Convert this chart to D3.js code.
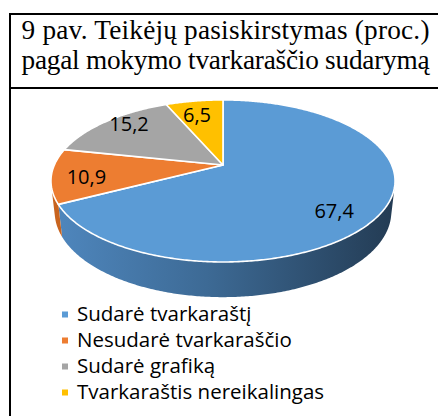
<!DOCTYPE html>
<html>
<head>
<meta charset="utf-8">
<script src="https://cdn.jsdelivr.net/npm/d3@7"></script>
<style>
  html, body { margin: 0; padding: 0; background: #fff; }
  svg { display: block; }
  .title { font-family: 'Liberation Serif', 'DejaVu Serif', serif; }
  .sans { font-family: 'Open Sans', 'Noto Sans', sans-serif; }
</style>
</head>
<body>
<svg id="chart" width="438" height="416"></svg>
<script>
// ---- data ----
const titleLines = ["9 pav. Teikėjų pasiskirstymas (proc.)", "pagal mokymo tvarkaraščio sudarymą"];
const categories = ["Sudarė tvarkaraštį", "Nesudarė tvarkaraščio", "Sudarė grafiką", "Tvarkaraštis nereikalingas"];
const values = [67.4, 10.9, 15.2, 6.5];
const valueLabels = ["67,4", "10,9", "15,2", "6,5"];
const colors = ["#5b9bd5", "#ed7d31", "#a5a5a5", "#ffc000"];
const wallColors = ["url(#blueWall)", "#c8641f", "#7f7f7f", "#c79500"];

// ---- drawing ----
const svg = d3.select("#chart");
const defs = svg.append("defs");
const g1 = defs.append("linearGradient").attr("id", "blueWall")
  .attr("gradientUnits", "userSpaceOnUse").attr("x1", 52).attr("x2", 396).attr("y1", 0).attr("y2", 0);
g1.append("stop").attr("offset", 0).attr("stop-color", "#4f87be");
g1.append("stop").attr("offset", 0.45).attr("stop-color", "#3d6a95");
g1.append("stop").attr("offset", 1).attr("stop-color", "#233b53");

// frame
svg.append("line").attr("x1", 9).attr("x2", 438).attr("y1", 14).attr("y2", 14).attr("stroke", "#000").attr("stroke-width", 2);
svg.append("line").attr("x1", 10).attr("x2", 10).attr("y1", 13).attr("y2", 416).attr("stroke", "#000").attr("stroke-width", 2);
svg.append("line").attr("x1", 9).attr("x2", 438).attr("y1", 88).attr("y2", 88).attr("stroke", "#000").attr("stroke-width", 2);

const titleText = svg.selectAll("text.title").data(titleLines).enter().append("text")
  .attr("class", "title")
  .attr("x", 21.5).attr("y", (d, i) => 39 + i * 30)
  .attr("font-size", 20)
  .attr("fill", "#000")
  .text(d => d);
// size so the two lines average the reference width, then even them out
const widths = titleText.nodes().map(n => n.getComputedTextLength());
const avgW = d3.mean(widths);
if (avgW > 0) {
  titleText.attr("font-size", 20 * 408 / avgW)
    .attr("textLength", 408).attr("lengthAdjust", "spacing");
}

// 3D perspective projection
const PHI = 27.5 * Math.PI / 180, DIST = 4.506, F = 760, CX = 223, CY = 165, H = 0.2077;
const sP = Math.sin(PHI), cP = Math.cos(PHI);
function project(r, t, y) {
  const x = r * Math.sin(t), z = -r * Math.cos(t);
  const Y = y * cP - z * sP;
  const Zd = DIST - (y * sP + z * cP);
  return [CX + F * x / Zd, CY - F * Y / Zd];
}
function arcPts(t0, t1, y) {
  const n = Math.max(2, Math.ceil(Math.abs(t1 - t0) / 0.01));
  return d3.range(n + 1).map(i => project(1, t0 + (t1 - t0) * i / n, y));
}

const pie = d3.pie().sort(null).value(d => d)(values);

// visible wall range: cos t < -1/(D cos phi)
const tv = Math.acos(-1 / (DIST * cP));
const visA = tv, visB = 2 * Math.PI - tv;

const line = d3.line();
const walls = svg.append("g");
pie.forEach((p, i) => {
  const a = Math.max(p.startAngle, visA), b = Math.min(p.endAngle, visB);
  if (b <= a) return;
  const top = arcPts(a, b, 0);
  const bot = arcPts(b, a, -H);
  walls.append("path").attr("d", line(top.concat(bot)) + "Z")
    .attr("fill", wallColors[i]);
});

const tops = svg.append("g");
pie.forEach((p, i) => {
  const pts = [project(0, 0, 0)].concat(arcPts(p.startAngle, p.endAngle, 0));
  tops.append("path").attr("d", line(pts) + "Z")
    .attr("fill", colors[i])
    .attr("stroke", "#fff").attr("stroke-width", 1.6).attr("stroke-linejoin", "round");
});

// data labels
const labelR = [0.715, 0.80, 0.79, 0.89];
const labelDy = [14, 3, -6, 7];
pie.forEach((p, i) => {
  const m = (p.startAngle + p.endAngle) / 2;
  const [x, y] = project(labelR[i], m, 0);
  svg.append("text").attr("class", "sans").attr("x", x).attr("y", y + labelDy[i])
    .attr("text-anchor", "middle").attr("dominant-baseline", "central")
    .attr("font-size", 20)
    .attr("fill", "#000").text(valueLabels[i]);
});

// legend
const leg = svg.append("g");
categories.forEach((c, i) => {
  const y = 320.5 + i * 26;
  leg.append("rect").attr("x", 62).attr("y", y - 9).attr("width", 6).attr("height", 6).attr("fill", colors[i]);
  leg.append("text").attr("class", "sans").attr("x", 77).attr("y", y)
    .attr("font-size", 20.5)
    .attr("fill", "#000").text(c);
});
</script>
</body>
</html>
